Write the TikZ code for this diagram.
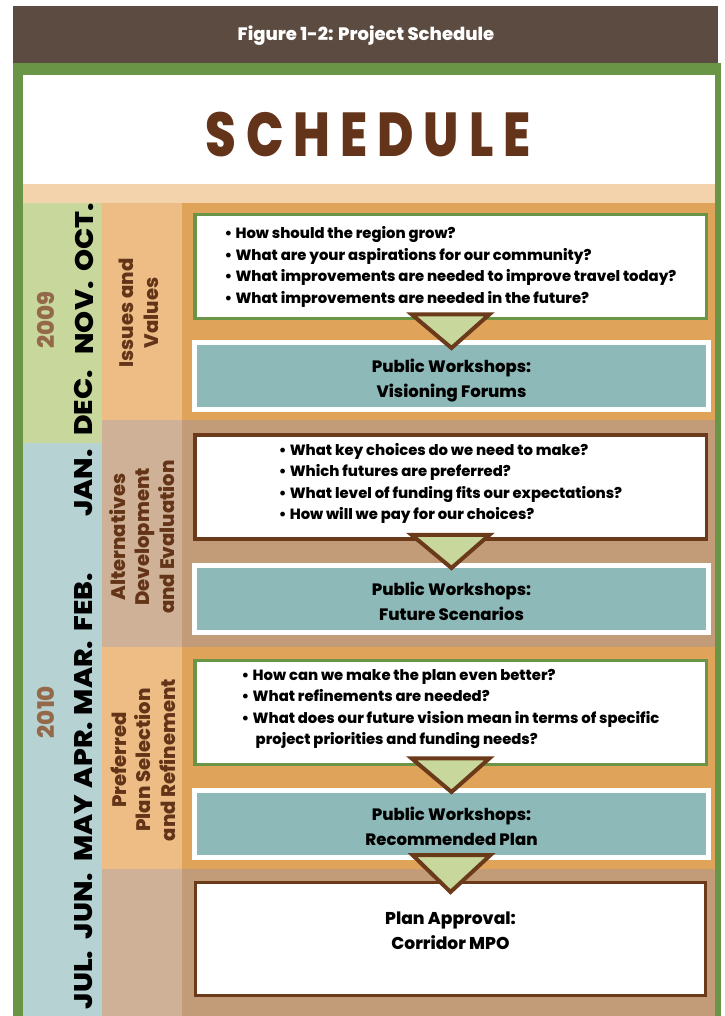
\documentclass[tikz,border=0pt]{standalone}
\usepackage{fontspec}
\newfontfamily\futfont{Poppins}[BoldFont={* ExtraBold}]
\newfontfamily\futcond{Poppins}[FakeStretch=0.8, BoldFont={* ExtraBold}]
\newfontfamily\futwide{Poppins}[FakeStretch=1.1, BoldFont={* ExtraBold}]
\usetikzlibrary{calc}

\definecolor{barbrown}{HTML}{5C4B41}
\definecolor{framegreen}{HTML}{6A9446}
\definecolor{peach}{HTML}{F2D3AB}
\definecolor{monthgreen}{HTML}{C8D89C}
\definecolor{monthblue}{HTML}{B6D2D3}
\definecolor{phaseorange}{HTML}{EDBD85}
\definecolor{phasetan}{HTML}{CEB196}
\definecolor{bandorange}{HTML}{DFA45A}
\definecolor{bandtan}{HTML}{C29C78}
\definecolor{wsteal}{HTML}{8DB9B8}
\definecolor{darkbrown}{HTML}{6B3A1A}
\definecolor{titlebrown}{HTML}{64341A}
\definecolor{yearbrown}{HTML}{93694A}
\definecolor{phasebrown}{HTML}{633418}

\newcommand{\qitem}[1]{\makebox[11pt][l]{\textbullet}#1}

\begin{document}
\begin{tikzpicture}[x=1pt, y=-1pt,
    every node/.style={inner sep=0pt, font=\futfont\bfseries},
    month/.style={rotate=90, font=\futwide\bfseries\fontsize{25.5}{25.5}\selectfont},
    year/.style={rotate=90, text=yearbrown, font=\futfont\bfseries\fontsize{23}{23}\selectfont},
    phase/.style={rotate=90, align=center, text=phasebrown,
      font=\futfont\bfseries\fontsize{19.6}{24.5}\selectfont},
    question/.style={draw=#1, line width=3.5pt, fill=white, minimum width=511.5pt,
      minimum height=104pt, align=left, text depth=11pt,
      font=\futfont\bfseries\fontsize{14.8}{21.5}\selectfont},
    workshop/.style={draw=white, line width=5pt, fill=wsteal, minimum width=514pt,
      minimum height=67pt, align=center, text height=42pt, text depth=0pt,
      font=\futfont\bfseries\fontsize{16.5}{24.5}\selectfont},
    approval/.style={draw=darkbrown, line width=3pt, fill=white, minimum width=510pt,
      minimum height=113pt, align=center, text depth=16pt,
      font=\futfont\bfseries\fontsize{17.1}{25}\selectfont},
    flowtri/.style={fill=monthgreen, draw=darkbrown, line width=4pt, line join=miter}]
  \useasboundingbox (0,0) rectangle (724,1016);

  % frame and header
  \fill[barbrown] (13,6) rectangle (718,63);
  \fill[framegreen] (13,63) rectangle (721,1016);
  \fill[white] (23,75) rectangle (715,184);
  \fill[peach] (23,184) rectangle (715,203);
  \node[text=white, font=\futfont\bfseries\fontsize{18}{18}\selectfont] (figtitle) at (366,36)
    {Figure 1-2: Project Schedule};
  \node[text=titlebrown, font=\futcond\bfseries\fontsize{62}{62}\selectfont] (schedule) at (368,135)
    {\addfontfeature{LetterSpace=16}SCHEDULE};

  % bands
  \fill[monthgreen] (23,203) rectangle (102,443);
  \fill[monthblue] (23,443) rectangle (102,1016);
  \foreach \top/\bot/\pc/\bc in {203/420/phaseorange/bandorange, 420/647/phasetan/bandtan,
      647/869/phaseorange/bandorange, 869/1016/phasetan/bandtan} {
    \fill[\pc] (102,\top) rectangle (182,\bot);
    \fill[\bc] (182,\top) rectangle (715,\bot);
  }

  % months and years
  \foreach \mname/\mlabel/\my in {oct/OCT./237, nov/NOV./318, dec/DEC./403, jan/JAN./483,
      feb/FEB./602, mar/MAR./678, apr/APR./755, may/MAY/828, jun/JUN./906, jul/JUL./980}
    \node[month] (\mname) at (84,\my) {\mlabel};
  \node[year] (y2009) at (46,320) {2009};
  \node[year] (y2010) at (46,712) {2010};

  % phases
  \node[phase] (issues) at (139,313) {Issues and\\Values};
  \node[phase] (alternatives) at (142,537) {Alternatives\\Development\\and Evaluation};
  \node[phase] (preferred) at (143,760) {Preferred\\Plan Selection\\and Refinement};

  % boxes
  \node[question=framegreen, text depth=3pt] (q1) at (450.5,266.5) {\qitem{How should the region grow?}\\
    \qitem{What are your aspirations for our community?}\\
    \qitem{What improvements are needed to improve travel today?}\\
    \qitem{What improvements are needed in the future?}};
  \node[workshop] (w1) at (451.5,376) {Public Workshops:\\Visioning Forums};

  \node[question=darkbrown] (q2) at (450.5,487) {\qitem{What key choices do we need to make?}\\
    \qitem{Which futures are preferred?}\\
    \qitem{What level of funding fits our expectations?}\\
    \qitem{How will we pay for our choices?}};
  \node[workshop] (w2) at (451.5,599) {Public Workshops:\\Future Scenarios};

  \node[question=framegreen] (q3) at (450.5,712.5) {\qitem{How can we make the plan even better?}\\
    \qitem{What refinements are needed?}\\
    \qitem{What does our future vision mean in terms of specific}\\
    \hspace*{14pt}project priorities and funding needs?};
  \node[workshop] (w3) at (451.5,824) {Public Workshops:\\Recommended Plan};

  \node[approval] (approve) at (450.5,939) {Plan Approval:\\Corridor MPO};

  % triangles between boxes
  \draw[flowtri] ($(q1.south)+(-39,-6)$) -- ($(q1.south)+(39,-6)$) -- ($(w1.north)+(0,8)$) -- cycle;
  \draw[flowtri] ($(q2.south)+(-39,-6)$) -- ($(q2.south)+(39,-6)$) -- ($(w2.north)+(0,5)$) -- cycle;
  \draw[flowtri] ($(q3.south)+(-39,-8)$) -- ($(q3.south)+(39,-8)$) -- ($(w3.north)+(0,4)$) -- cycle;
  \draw[flowtri] ($(w3.south)+(-39,-5)$) -- ($(w3.south)+(39,-5)$) -- ($(approve.north)+(0,11)$) -- cycle;
\end{tikzpicture}
\end{document}
